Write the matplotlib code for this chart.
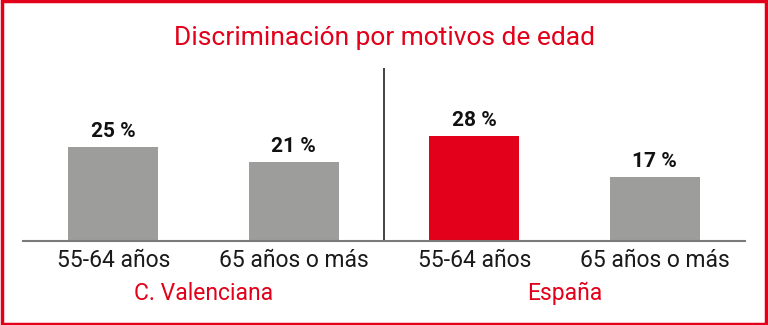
import numpy as np
import matplotlib
matplotlib.use('Agg')
from matplotlib import pyplot as plt
from matplotlib.patches import Rectangle

plt.rcParams['font.family'] = ['Roboto', 'DejaVu Sans']

title = 'Discriminación por motivos de edad'
categories = ['55-64 años', '65 años o más', '55-64 años', '65 años o más']
values = [25, 21, 28, 17]
groups = ['C. Valenciana', 'España']
highlight = 2

red = '#e2001a'
grey = '#9d9d9c'

fig = plt.figure(figsize=(7.68, 3.25), dpi=100)
ax = fig.add_axes([23/768, 84/325, 722/768, 173/325])

x = np.arange(len(values))
colors = [red if i == highlight else grey for i in x]
ax.bar(x, values, width=0.5, color=colors, zorder=2)

for xi, v in zip(x, values):
    ax.annotate('%d %%' % v, (xi, v), xytext=(0, 4.5), textcoords='offset points',
                ha='center', va='bottom', fontsize=15, fontweight='bold', color='#111111')

ax.set_xlim(-0.5, 3.5)
ax.set_ylim(0, 46.1)
ax.set_xticks(x)
ax.set_xticklabels(categories, fontsize=16.5, color='#1a1a1a')
ax.tick_params(axis='x', length=0, pad=6)
ax.set_yticks([])
for s in ['top', 'right', 'left']:
    ax.spines[s].set_visible(False)
ax.spines['bottom'].set_color('#7a7a7a')
ax.spines['bottom'].set_linewidth(1.5)

# divider between the two groups
ax.axvline(1.5, color='#222222', linewidth=1.2)

# group labels
for gi, g in enumerate(groups):
    ax.text(gi * 2 + 0.5, -0.305, g, transform=ax.get_xaxis_transform(),
            ha='center', va='center', fontsize=16.5, color=red)

fig.text(0.5, 1 - 38/325, title, ha='center', va='center', fontsize=19, color=red)

fig.patches.append(Rectangle((0.002, 0.003), 0.996, 0.994, transform=fig.transFigure,
                             fill=False, edgecolor=red, linewidth=2.5))

fig.savefig('out.png', dpi=100)
